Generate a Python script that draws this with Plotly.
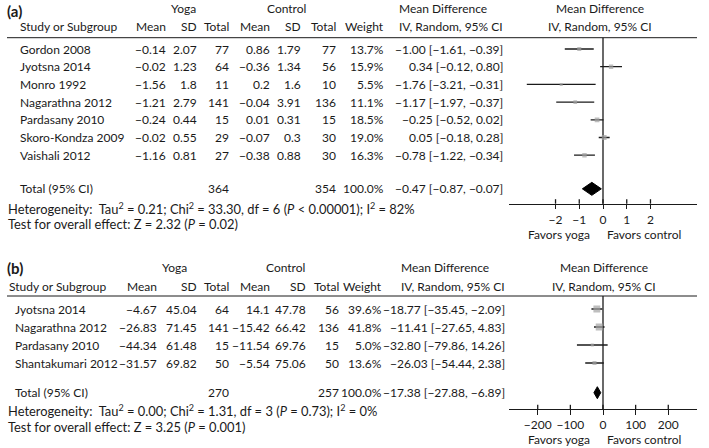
import math
import plotly.graph_objects as go

# ---------------- data: panel (a) ----------------
studies_a = ["Gordon 2008", "Jyotsna 2014", "Monro 1992", "Nagarathna 2012",
             "Pardasany 2010", "Skoro-Kondza 2009", "Vaishali 2012"]
yoga_mean_a = [-0.14, -0.02, -1.56, -1.21, -0.24, -0.02, -1.16]
yoga_sd_a = [2.07, 1.23, 1.8, 2.79, 0.44, 0.55, 0.81]
yoga_n_a = [77, 64, 11, 141, 15, 29, 27]
ctrl_mean_a = [0.86, -0.36, 0.2, -0.04, 0.01, -0.07, -0.38]
ctrl_sd_a = [1.79, 1.34, 1.6, 3.91, 0.31, 0.3, 0.88]
ctrl_n_a = [77, 56, 10, 136, 15, 30, 30]
weight_a = [13.7, 15.9, 5.5, 11.1, 18.5, 19.0, 16.3]
md_a = [-1.00, 0.34, -1.76, -1.17, -0.25, 0.05, -0.78]
lo_a = [-1.61, -0.12, -3.21, -1.97, -0.52, -0.18, -1.22]
hi_a = [-0.39, 0.80, -0.31, -0.37, 0.02, 0.28, -0.34]
total_a = {"yoga_n": 364, "ctrl_n": 354, "md": -0.47, "lo": -0.87, "hi": -0.07}
het_a = "Heterogeneity:  Tau<sup>2</sup> = 0.21; Chi<sup>2</sup> = 33.30, df = 6 (<i>P</i> < 0.00001); I<sup>2</sup> = 82%"
test_a = "Test for overall effect: Z = 2.32 (<i>P</i> = 0.02)"
ticks_a = [-2, -1, 0, 1, 2]

# ---------------- data: panel (b) ----------------
studies_b = ["Jyotsna 2014", "Nagarathna 2012", "Pardasany 2010", "Shantakumari 2012"]
yoga_mean_b = [-4.67, -26.83, -44.34, -31.57]
yoga_sd_b = [45.04, 71.45, 61.48, 69.82]
yoga_n_b = [64, 141, 15, 50]
ctrl_mean_b = [14.1, -15.42, -11.54, -5.54]
ctrl_sd_b = [47.78, 66.42, 69.76, 75.06]
ctrl_n_b = [56, 136, 15, 50]
weight_b = [39.6, 41.8, 5.0, 13.6]
md_b = [-18.77, -11.41, -32.80, -26.03]
lo_b = [-35.45, -27.65, -79.86, -54.44]
hi_b = [-2.09, 4.83, 14.26, 2.38]
total_b = {"yoga_n": 270, "ctrl_n": 257, "md": -17.38, "lo": -27.88, "hi": -6.89}
het_b = "Heterogeneity:  Tau<sup>2</sup> = 0.00; Chi<sup>2</sup> = 1.31, df = 3 (<i>P</i> = 0.73); I<sup>2</sup> = 0%"
test_b = "Test for overall effect: Z = 3.25 (<i>P</i> = 0.001)"
ticks_b = [-200, -100, 0, 100, 200]

# ---------------- style / layout ----------------
W, H = 709, 448
FONT = "Lato"
INK = "#1a1a1a"
FS = 12          # table text
FS_NOTE = 12.9   # heterogeneity / overall-effect lines
GRAY = "#a3a3a3"


def px(x):
    return x / W


def py(y):
    return 1 - y / H


def fmt(v):
    return str(v).replace("-", "\u2212")


def f2(v):
    return ("%.2f" % v).replace("-", "\u2212")


fig = go.Figure()


def txt(x, y, s, anchor="left", size=FS, bold=False):
    if bold:
        s = "<b>" + s + "</b>"
    fig.add_annotation(x=px(x), y=py(y), xref="paper", yref="paper", text=s,
                       showarrow=False, xanchor=anchor, yanchor="middle",
                       borderpad=0, font=dict(size=size, family=FONT, color=INK))


def panel(p):
    # header
    txt(6, p["label_y"], p["label"], size=15, bold=True)
    txt(p["yoga_c"], p["top_y"], "Yoga", "center")
    txt(p["ctrl_c"], p["top_y"], "Control", "center")
    txt(p["md_left"], p["top_y"], "Mean Difference")
    txt(p["forest_c"], p["top_y"], "Mean Difference", "center")
    hy = p["head_y"]
    txt(p["study_hx"], hy, "Study or Subgroup")
    cols = p["cols"]
    for name, key in [("Mean", "ym"), ("SD", "ysd"), ("Total", "yn"),
                      ("Mean", "cm"), ("SD", "csd"), ("Total", "cn"), ("Weight", "w")]:
        txt(cols[key], hy, name, "right")
    txt(p["md_left"], hy, "IV, Random, 95% CI")
    txt(p["forest_c"], hy, "IV, Random, 95% CI", "center")
    fig.add_shape(type="line", xref="paper", yref="paper", x0=px(7), x1=px(697),
                  y0=py(p["line_y"]), y1=py(p["line_y"]), line=dict(color=INK, width=1))
    # rows
    d = p["data"]
    nx = p["name_x"]
    for i, s in enumerate(d["studies"]):
        y = p["row0"] + i * p["step"]
        txt(nx, y, s)
        txt(cols["ym"], y, fmt(d["ym"][i]), "right")
        txt(cols["ysd"], y, fmt(d["ysd"][i]), "right")
        txt(cols["yn"], y, fmt(d["yn"][i]), "right")
        txt(cols["cm"], y, fmt(d["cm"][i]), "right")
        txt(cols["csd"], y, fmt(d["csd"][i]), "right")
        txt(cols["cn"], y, fmt(d["cn"][i]), "right")
        txt(cols["w"], y, "%.1f%%" % d["w"][i], "right")
        txt(cols["ci"], y, "%s [%s, %s]" % (f2(d["md"][i]), f2(d["lo"][i]), f2(d["hi"][i])), "right")
    t = d["total"]
    ty = p["row0"] + p["total_k"] * p["step"]
    txt(nx, ty, "Total (95% CI)")
    txt(cols["yn"], ty, str(t["yoga_n"]), "right")
    txt(cols["cn"], ty, str(t["ctrl_n"]), "right")
    txt(cols["w"], ty, "100.0%", "right")
    txt(cols["ci"], ty, "%s [%s, %s]" % (f2(t["md"]), f2(t["lo"]), f2(t["hi"])), "right")
    txt(7, p["het_y"], d["het"], size=FS_NOTE)
    txt(7, p["test_y"], d["test"], size=FS_NOTE)
    txt(591, p["fav_y"], "Favors yoga", "right")
    txt(606, p["fav_y"], "Favors control", "left")

    # forest axes
    xa, ya = p["xa"], p["ya"]
    k_top = (p["line_y"] - p["row0"]) / p["step"]
    k_bot = (p["axis_y"] - p["row0"]) / p["step"]
    fig.update_layout(**{
        "xaxis" + xa[1:]: dict(domain=[px(509), px(697)], range=p["xrange"], anchor=ya,
                               showline=True, linecolor=INK, linewidth=1.3,
                               tickvals=p["ticks"], ticks="outside", ticklen=4.5,
                               tickwidth=1.3, tickcolor=INK, showgrid=False,
                               zeroline=False, ticklabelstandoff=p["standoff"],
                               tickfont=dict(size=FS, family=FONT, color=INK)),
        "yaxis" + ya[1:]: dict(domain=[py(p["axis_y"]), py(p["line_y"])],
                               range=[k_bot, k_top], anchor=xa, visible=False,
                               showgrid=False, zeroline=False),
    })
    # upper half of tick marks
    for tv in p["ticks"]:
        fig.add_shape(type="line", xref=xa, yref="paper", x0=tv, x1=tv,
                      y0=py(p["axis_y"]), y1=py(p["axis_y"] - 4.5),
                      line=dict(color=INK, width=1.3))
    # zero line
    fig.add_shape(type="line", xref=xa, yref=ya + " domain", x0=0, x1=0, y0=0, y1=1,
                  line=dict(color=INK, width=1.3), layer="below")
    ks = list(range(len(d["studies"])))
    sizes = [max(3.0, 1.1 * math.sqrt(w)) for w in d["w"]]
    fig.add_trace(go.Scatter(
        x=d["md"], y=ks, xaxis=xa, yaxis=ya, mode="markers",
        marker=dict(symbol="square", size=sizes, color=GRAY, line=dict(width=0)),
        error_x=dict(type="data", symmetric=False,
                     array=[h - m for h, m in zip(d["hi"], d["md"])],
                     arrayminus=[m - l for m, l in zip(d["md"], d["lo"])],
                     width=0, thickness=1.3, color=INK),
        showlegend=False, hoverinfo="skip"))
    hh = p["diamond_h"] / p["step"] / 2
    tk = p["total_k"]
    fig.add_trace(go.Scatter(
        x=[t["lo"], t["md"], t["hi"], t["md"], t["lo"]],
        y=[tk, tk - hh, tk, tk + hh, tk], xaxis=xa, yaxis=ya, mode="lines",
        fill="toself", fillcolor="black", line=dict(color="black", width=1),
        showlegend=False, hoverinfo="skip"))


panel(dict(
    label="(a)", label_y=11, top_y=9, head_y=26.5, line_y=37.7, row0=49, step=17.7,
    total_k=7.9, het_y=208, test_y=224, fav_y=234, axis_y=203.7,
    yoga_c=183, ctrl_c=286, md_left=398, forest_c=600, study_hx=19, name_x=19,
    cols=dict(ym=166.7, ysd=197.7, yn=230, cm=270.7, csd=301.7, cn=336.7, w=385, ci=504),
    xa="x", ya="y", xrange=[-3.96, 3.96], ticks=ticks_a, diamond_h=13, standoff=0,
    data=dict(studies=studies_a, ym=yoga_mean_a, ysd=yoga_sd_a, yn=yoga_n_a,
              cm=ctrl_mean_a, csd=ctrl_sd_a, cn=ctrl_n_a, w=weight_a,
              md=md_a, lo=lo_a, hi=hi_a, total=total_a, het=het_a, test=test_a),
))

panel(dict(
    label="(b)", label_y=267.5, top_y=267.5, head_y=286, line_y=296, row0=309, step=18,
    total_k=4.65, het_y=410.5, test_y=427, fav_y=439, axis_y=409.3,
    yoga_c=174, ctrl_c=285, md_left=400, forest_c=604, study_hx=8, name_x=14,
    cols=dict(ym=157.5, ysd=198, yn=230, cm=271, csd=306.7, cn=339.5, w=383, ci=506),
    xa="x2", ya="y2", xrange=[-288, 288], ticks=ticks_b, diamond_h=12, standoff=0,
    data=dict(studies=studies_b, ym=yoga_mean_b, ysd=yoga_sd_b, yn=yoga_n_b,
              cm=ctrl_mean_b, csd=ctrl_sd_b, cn=ctrl_n_b, w=weight_b,
              md=md_b, lo=lo_b, hi=hi_b, total=total_b, het=het_b, test=test_b),
))

fig.update_layout(width=W, height=H, margin=dict(l=0, r=0, t=0, b=0),
                  paper_bgcolor="white", plot_bgcolor="white",
                  font=dict(family=FONT, color=INK, size=FS), showlegend=False)

fig.write_html("out.html", config={"displayModeBar": False},
               post_script="document.body.style.margin='0';document.body.style.overflow='hidden';")
